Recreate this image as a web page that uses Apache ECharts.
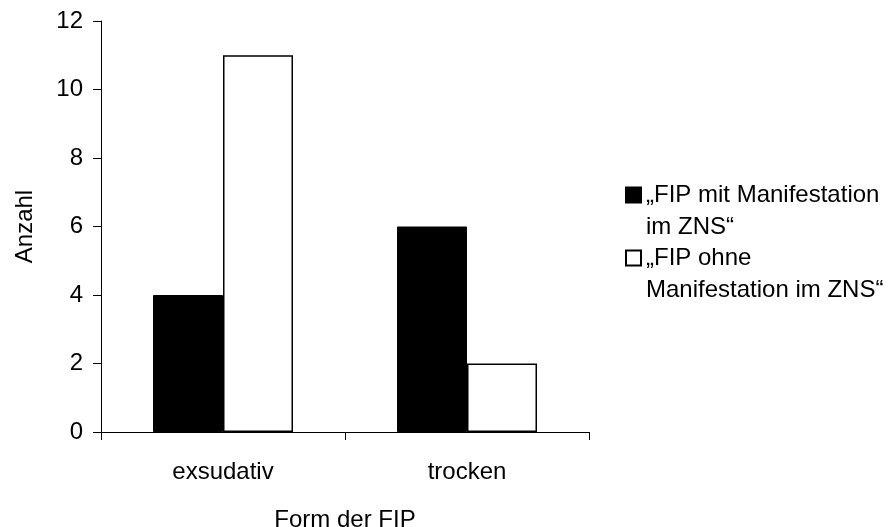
<!DOCTYPE html>
<html>
<head>
<meta charset="utf-8">
<script src="https://cdn.jsdelivr.net/npm/echarts@6/dist/echarts.min.js"></script>
<style>html,body{margin:0;padding:0;background:#fff}#c{width:896px;height:527px}</style>
</head>
<body>
<div id="c"></div>
<script>
const categories = ['exsudativ', 'trocken'];
const seriesNames = ['„FIP mit Manifestation\nim ZNS“', '„FIP ohne\nManifestation im ZNS“'];
const withZNS = [4, 6];
const withoutZNS = [11, 2];
const yTicks = [0, 2, 4, 6, 8, 10, 12];

const FONT = 'Liberation Sans';
const FS = 24;
const LH = 32;
const chart = echarts.init(document.getElementById('c'), null, {renderer: 'canvas'});
// square drawn in the upper part of a 15 x 64 box so it lines up with the first text line
const iconPath = 'path://M0,0 M0,8.5 L15,8.5 L15,23.5 L0,23.5 Z M15,64';
const legendBase = {
  orient: 'vertical', left: 625, padding: 0, itemWidth: 15, itemHeight: 2 * LH,
  icon: iconPath,
  textStyle: {fontFamily: FONT, fontSize: FS, color: '#000', lineHeight: LH}
};
chart.setOption({
  backgroundColor: '#fff',
  animation: false,
  textStyle: {fontFamily: FONT},
  grid: {left: 101, right: 307, top: 21, bottom: 95, containLabel: false, outerBoundsMode: 'none'},
  legend: [
    Object.assign({}, legendBase, {top: 178, data: [seriesNames[0]]}),
    Object.assign({}, legendBase, {top: 241, data: [seriesNames[1]]})
  ],
  xAxis: {
    type: 'category', data: categories,
    name: 'Form der FIP', nameLocation: 'middle', nameGap: 76,
    nameTextStyle: {fontFamily: FONT, fontSize: FS, color: '#000'},
    axisLine: {lineStyle: {color: '#000', width: 1}},
    axisTick: {show: true, length: 8, lineStyle: {color: '#000'}},
    axisLabel: {fontFamily: FONT, fontSize: FS, color: '#000', margin: 28},
    splitLine: {show: false}
  },
  yAxis: {
    type: 'value', min: yTicks[0], max: yTicks[yTicks.length - 1], interval: 2,
    name: 'Anzahl', nameLocation: 'middle', nameGap: 64, nameRotate: 90,
    nameTextStyle: {fontFamily: FONT, fontSize: FS, color: '#000'},
    axisLine: {show: true, lineStyle: {color: '#000', width: 1}},
    axisTick: {show: true, length: 8, lineStyle: {color: '#000'}},
    axisLabel: {fontFamily: FONT, fontSize: FS, color: '#000', margin: 18},
    splitLine: {show: false}
  },
  series: [
    {name: seriesNames[0], type: 'bar', data: withZNS, barWidth: 70, barGap: '0%',
     itemStyle: {color: '#000', borderColor: '#000', borderWidth: 1}},
    {name: seriesNames[1], type: 'bar', data: withoutZNS, barWidth: 70, barGap: '0%',
     itemStyle: {color: '#fff', borderColor: '#000', borderWidth: 1.5}}
  ]
});
</script>
</body>
</html>
